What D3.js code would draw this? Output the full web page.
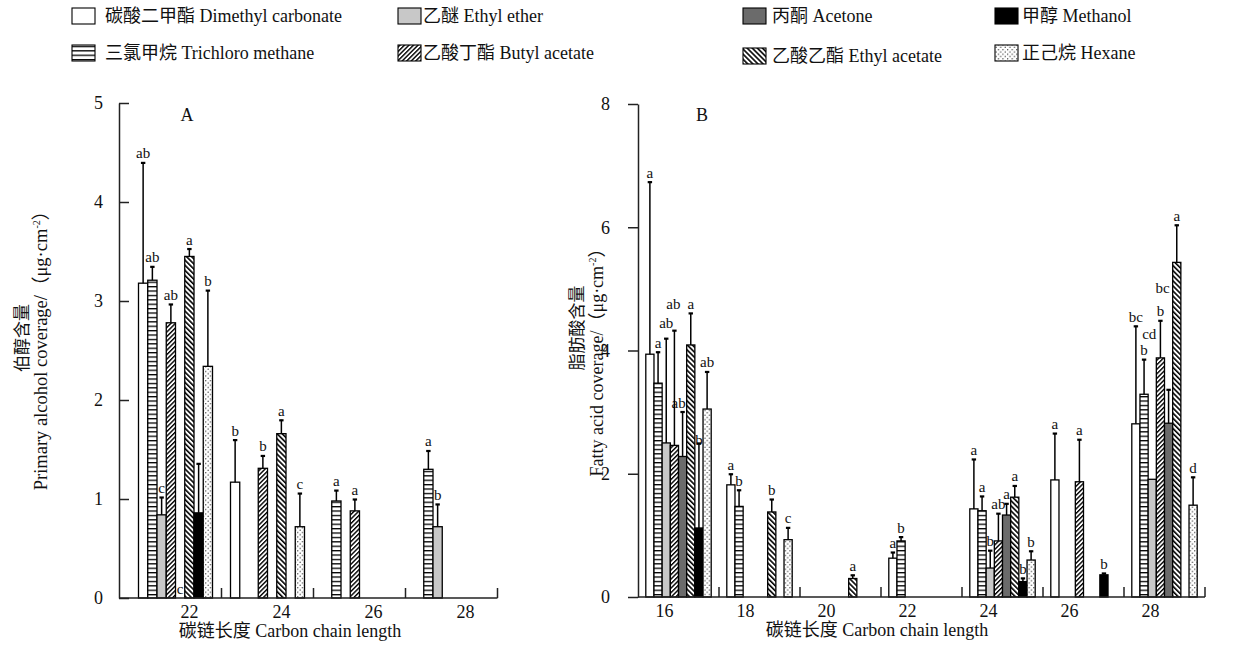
<html>
<head>
<meta charset="utf-8">
<style>
body{margin:0;background:#fff;}
text{font-family:"Liberation Serif","Times New Roman","Noto Sans CJK SC",serif;fill:#111;}
.axis line,.axis path,.base,.sep{stroke:#222;stroke-width:1.5;}
.tick text{font-size:18px;font-family:"Liberation Serif","Times New Roman",serif;}
.sig{font-size:15px;}
</style>
</head>
<body>
<script src="https://d3js.org/d3.v7.min.js"></script>
<script>
// solvent order inside every carbon-chain group (same order as the legend, column by column)
var solvents = ["碳酸二甲酯 Dimethyl carbonate", "三氯甲烷 Trichloro methane", "乙醚 Ethyl ether",
                "乙酸丁酯 Butyl acetate", "丙酮 Acetone", "乙酸乙酯 Ethyl acetate", "甲醇 Methanol", "正己烷 Hexane"];

// panel A: primary alcohol coverage, one row per chain length, null = not drawn
var chainA = ["22", "24", "26", "28"];
var meanA = [
    [3.18, 3.21, 0.84, 2.78, 0, 3.45, 0.86, 2.34],
    [1.17, null, null, 1.31, null, 1.66, null, 0.72],
    [null, 0.98, null, 0.88, null, null, null, null],
    [null, 1.30, 0.72, null, null, null, null, null]
];
var sdA = [
    [1.22, 0.14, 0.18, 0.19, 0, 0.08, 0.50, 0.77],
    [0.43, null, null, 0.13, null, 0.14, null, 0.34],
    [null, 0.11, null, 0.12, null, null, null, null],
    [null, 0.19, 0.23, null, null, null, null, null]
];
var sigA = [
    ["ab", "ab", "c", "ab", "c", "a", "", "b"],
    ["b", "", "", "b", "", "a", "", "c"],
    ["", "a", "", "a", "", "", "", ""],
    ["", "a", "b", "", "", "", "", ""]
];
var ticksA = [0, 1, 2, 3, 4, 5];

// panel B: fatty acid coverage
var chainB = ["16", "18", "20", "22", "24", "26", "28"];
var meanB = [
    [3.94, 3.47, 2.50, 2.46, 2.28, 4.09, 1.12, 3.05],
    [1.82, 1.47, null, null, null, 1.38, null, 0.93],
    [null, null, null, null, null, 0.30, null, null],
    [0.63, 0.91, null, null, null, null, null, null],
    [1.43, 1.40, 0.47, 0.91, 1.33, 1.62, 0.25, 0.60],
    [1.90, null, null, 1.87, null, null, 0.36, null],
    [2.81, 3.29, 1.91, 3.88, 2.82, 5.43, null, 1.49]
];
var sdB = [
    [2.80, 0.51, 1.70, 1.87, 0.73, 0.52, 1.38, 0.61],
    [0.18, 0.27, null, null, null, 0.21, null, 0.20],
    [null, null, null, null, null, 0.06, null, null],
    [0.10, 0.07, null, null, null, null, null, null],
    [0.81, 0.24, 0.29, 0.45, 0.19, 0.19, 0.06, 0.15],
    [0.76, null, null, 0.69, null, null, 0.03, null],
    [1.59, 0.57, 0, 0.61, 0.55, 0.61, null, 0.46]
];
var sigB = [
    ["a", "a", "ab", "ab", "ab", "a", "b", "ab"],
    ["a", "b", "", "", "", "b", "", "c"],
    ["", "", "", "", "", "a", "", ""],
    ["a", "b", "", "", "", "", "", ""],
    ["a", "a", "b", "ab", "a", "a", "b", "b"],
    ["a", "", "", "a", "", "", "b", ""],
    ["bc", "b", "cd", "b", "bc", "a", "", "d"]
];
var ticksB = [0, 2, 4, 6, 8];

// fills per solvent
var fills = ["#fff", "url(#hstripe)", "#c8c8c8", "url(#fwdhatch)", "#6b6b6b", "url(#backhatch)", "#000", "url(#dots)"];

var svg = d3.select("body").append("svg").attr("width", 1234).attr("height", 670);
var defs = svg.append("defs");

//horizontal stripes
var hs = defs.append("pattern").attr("id", "hstripe").attr("patternUnits", "userSpaceOnUse")
    .attr("width", 8).attr("height", 4.4);
hs.append("rect").attr("width", 8).attr("height", 4.4).attr("fill", "#fff");
hs.append("rect").attr("width", 8).attr("height", 1.3).attr("fill", "#000");

//diagonal hatching
function hatch(id, ang, gap, lw) {
    var p = defs.append("pattern").attr("id", id).attr("patternUnits", "userSpaceOnUse")
        .attr("width", gap).attr("height", gap).attr("patternTransform", "rotate(" + ang + ")");
    p.append("rect").attr("width", gap).attr("height", gap).attr("fill", "#fff");
    p.append("rect").attr("width", lw).attr("height", gap).attr("fill", "#000");
}
hatch("fwdhatch", 45, 3.2, 1.4);
hatch("backhatch", -45, 3.6, 1.6);

//dots
var dp = defs.append("pattern").attr("id", "dots").attr("patternUnits", "userSpaceOnUse")
    .attr("width", 4.6).attr("height", 4.6);
dp.append("rect").attr("width", 4.6).attr("height", 4.6).attr("fill", "#fff");
dp.append("circle").attr("cx", 1.1).attr("cy", 1.1).attr("r", 0.65).attr("fill", "#222");
dp.append("circle").attr("cx", 3.4).attr("cy", 3.4).attr("r", 0.65).attr("fill", "#222");

function panel(cfg) {
    var g = svg.append("g");
    var y = d3.scaleLinear().domain([0, cfg.yMax]).range([cfg.y0, cfg.yTop]);
    var x0 = d3.scaleBand().domain(cfg.groups).range(cfg.band);
    var x1 = d3.scaleBand().domain(d3.range(solvents.length)).range([cfg.pad, x0.bandwidth() - cfg.pad]);

    var recs = [];
    cfg.groups.forEach(function (c, gi) {
        solvents.forEach(function (s, si) {
            var m = cfg.mean[gi][si];
            if (m === null) return;
            recs.push({c: c, si: si, m: m, sd: cfg.sd[gi][si] || 0, lab: cfg.sig[gi][si], key: c + "-" + si});
        });
    });
    function cx(d) { return x0(d.c) + x1(d.si) + x1.bandwidth() / 2; }
    function shift(d, i) { var s = cfg.shift[d.key]; return s ? s[i] : 0; }

//significance letters sit under the bars, as in the original
    g.selectAll("text.sig").data(recs.filter(function (d) { return d.lab; })).join("text")
        .attr("class", "sig")
        .attr("x", function (d) { return cx(d) + shift(d, 0); })
        .attr("y", function (d) { return y(d.m + d.sd) - 4 + shift(d, 1); })
        .attr("text-anchor", "middle")
        .text(function (d) { return d.lab; });

    g.selectAll("rect.bar").data(recs).join("rect")
        .attr("class", "bar")
        .attr("x", function (d) { return x0(d.c) + x1(d.si); })
        .attr("width", x1.bandwidth())
        .attr("y", function (d) { return y(d.m); })
        .attr("height", function (d) { return y(0) - y(d.m); })
        .attr("fill", function (d) { return fills[d.si]; })
        .attr("stroke", "#000").attr("stroke-width", 1.3);

    var eb = recs.filter(function (d) { return d.sd > 0; });
    g.selectAll("line.err").data(eb).join("line")
        .attr("x1", cx).attr("x2", cx)
        .attr("y1", function (d) { return y(d.m); })
        .attr("y2", function (d) { return y(d.m + d.sd); })
        .attr("stroke", "#000").attr("stroke-width", 1.5);
    g.selectAll("line.cap").data(eb).join("line")
        .attr("x1", function (d) { return cx(d) - 2.2; })
        .attr("x2", function (d) { return cx(d) + 2.2; })
        .attr("y1", function (d) { return y(d.m + d.sd) + 0.5; })
        .attr("y2", function (d) { return y(d.m + d.sd) + 0.5; })
        .attr("stroke", "#000").attr("stroke-width", 2.2);

//y axis
    g.append("g").attr("class", "axis").attr("transform", "translate(" + cfg.axisX + ",0)")
        .call(d3.axisLeft(y).tickValues(cfg.yTicks).tickSizeInner(cfg.tickIn ? -10 : 10)
            .tickSizeOuter(0).tickPadding(cfg.tickPad).tickFormat(d3.format("d")));

//x axis line with group separators
    g.append("line").attr("class", "base")
        .attr("x1", cfg.axisX).attr("x2", cfg.band[1]).attr("y1", y(0)).attr("y2", y(0));
    g.selectAll("line.sep").data(cfg.groups).join("line").attr("class", "sep")
        .attr("x1", function (d) { return x0(d) + x0.bandwidth(); })
        .attr("x2", function (d) { return x0(d) + x0.bandwidth(); })
        .attr("y1", y(0)).attr("y2", y(0) - 10);
    g.selectAll("text.cat").data(cfg.groups).join("text")
        .attr("x", function (d) { return x0(d) + x0.bandwidth() / 2 + cfg.catShift; })
        .attr("y", y(0) + 20).attr("text-anchor", "middle").style("font-size", "18px")
        .text(function (d) { return d; });

//titles
    g.append("text").attr("x", cfg.xTitleX).attr("y", y(0) + 39).attr("text-anchor", "middle")
        .style("font-size", "18px").text("碳链长度 Carbon chain length");
    g.append("text").attr("transform", "translate(" + cfg.cnX + "," + cfg.cnY + ") rotate(-90)")
        .attr("text-anchor", "middle").style("font-size", "17px").text(cfg.cnTitle);
    var en = g.append("text").attr("transform", "translate(" + cfg.enX + "," + cfg.enY + ") rotate(-90)")
        .attr("text-anchor", "middle").style("font-size", cfg.enSize);
    en.append("tspan").text(cfg.enTitle + "/（μg·cm");
    en.append("tspan").attr("dy", -7).style("font-size", "10px").text("-2");
    en.append("tspan").attr("dy", 7).text("）");
    g.append("text").attr("x", cfg.letterX).attr("y", 121).attr("text-anchor", "middle")
        .style("font-size", "18px").text(cfg.letter);
}

panel({
    groups: chainA, mean: meanA, sd: sdA, sig: sigA, yTicks: ticksA, yMax: 5,
    y0: 598, yTop: 103, band: [129.5, 497.5], pad: 9, axisX: 119, tickIn: true, tickPad: 16,
    catShift: 14, xTitleX: 290, letter: "A", letterX: 187,
    cnTitle: "伯醇含量", cnX: 28, cnY: 338, enTitle: "Primary alcohol coverage", enX: 47, enY: 346,
    enSize: "18.5px", shift: {}
});

panel({
    groups: chainB, mean: meanB, sd: sdB, sig: sigB, yTicks: ticksB, yMax: 8,
    y0: 597, yTop: 104, band: [638, 1205], pad: 7.8, axisX: 638, tickIn: false, tickPad: 18,
    catShift: -14, xTitleX: 877, letter: "B", letterX: 702,
    cnTitle: "脂肪酸含量", cnX: 583, cnY: 328, enTitle: "Fatty acid coverage", enX: 603, enY: 358,
    enSize: "18px",
    shift: {"16-2": [0, -6], "16-3": [-1, -17], "16-4": [-4, 0], "16-6": [0, 6],
            "28-2": [-3, -136], "28-4": [-6, -92]}
});

//legend: two rows, four columns
var legCols = [72, 398, 743, 995], legGap = [33, 25, 29, 27];
var leg = svg.append("g").selectAll("g").data(solvents).join("g")
    .attr("transform", function (d, i) {
        var c = Math.floor(i / 2), r = i % 2;
        return "translate(" + legCols[c] + "," + (r * 37 + (i === 5 ? 3 : 0)) + ")";
    });
leg.append("rect").attr("x", 0).attr("y", 8).attr("width", 23).attr("height", 16)
    .attr("fill", function (d, i) { return fills[i]; }).attr("stroke", "#000").attr("stroke-width", 1.1);
leg.append("text").attr("x", function (d, i) { return legGap[Math.floor(i / 2)]; }).attr("y", 22)
    .style("font-size", "18px").text(function (d) { return d; });
</script>
</body>
</html>
